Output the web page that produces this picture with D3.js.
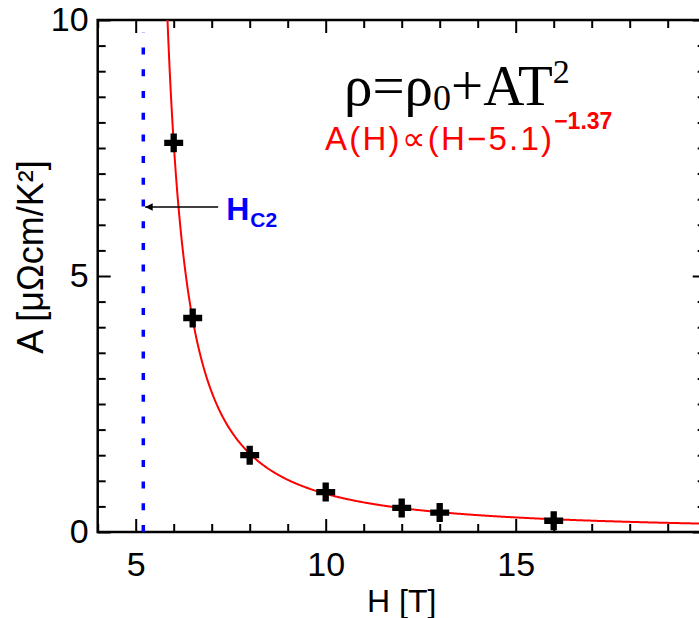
<!DOCTYPE html>
<html>
<head>
<meta charset="utf-8">
<script src="https://cdn.jsdelivr.net/npm/d3@7"></script>
<style>
  html, body { margin: 0; padding: 0; background: #fff; }
  svg { display: block; }
  .tick text { font-family: "Liberation Sans", Arial, sans-serif; font-size: 34px; fill: #000; }
</style>
</head>
<body>
<div id="chart"></div>
<script>
// measured points: field H [T] and T^2 coefficient A [µΩcm/K^2]
const fieldH = [6, 6.5, 8, 10, 12, 13, 16];
const coefA = [7.6, 4.18, 1.5, 0.78, 0.47, 0.38, 0.22];

// fit A(H) = amp * (H - hOffset)^power
const fitAmp = 6.58;
const fitOffset = 5.1;
const fitPower = -1.37;

// upper critical field marker
const hc2 = 5.2;

const xMajor = [5, 10, 15, 20];
const xLabels = { 5: '5', 10: '10', 15: '15', 20: '' };
const xMinor = [4, 6, 7, 8, 9, 11, 12, 13, 14, 16, 17, 18, 19];
const yMajor = [0, 5, 10];
const yMinor = [0.5, 1, 1.5, 2, 2.5, 3, 3.5, 4, 4.5, 5.5, 6, 6.5, 7, 7.5, 8, 8.5, 9, 9.5];

const width = 699, height = 618;
const plot = { left: 97.7, right: 705.7, top: 20, bottom: 532 };

const svg = d3.select('#chart').append('svg')
    .attr('width', width)
    .attr('height', height);

const x = d3.scaleLinear().domain([4, 20]).range([plot.left, plot.right]);
const y = d3.scaleLinear().domain([0, 10]).range([plot.bottom, plot.top]);

const defs = svg.append('defs');
defs.append('clipPath').attr('id', 'plot-clip')
  .append('rect')
    .attr('x', plot.left).attr('y', plot.top)
    .attr('width', plot.right - plot.left).attr('height', plot.bottom - plot.top);

defs.append('marker')
    .attr('id', 'arrow')
    .attr('viewBox', '0 0 10 10')
    .attr('refX', 10).attr('refY', 5)
    .attr('markerWidth', 5).attr('markerHeight', 5)
    .attr('markerUnits', 'strokeWidth')
    .attr('orient', 'auto')
  .append('path')
    .attr('d', 'M0,0 L10,5 L0,10 z')
    .attr('fill', '#000');

// axes (ticks point inward on all four sides)
function styleAxis(g) {
    g.select('.domain').remove();
    g.selectAll('.tick line').attr('stroke', '#000').attr('stroke-width', 2);
}

svg.append('g').attr('transform', `translate(0,${plot.bottom})`)
    .call(d3.axisBottom(x).tickValues(xMajor).tickSize(-13).tickPadding(20).tickFormat(d => xLabels[d]))
    .call(styleAxis);
svg.append('g').attr('transform', `translate(0,${plot.bottom})`)
    .call(d3.axisBottom(x).tickValues(xMinor).tickSize(-8).tickFormat(''))
    .call(styleAxis);
svg.append('g').attr('transform', `translate(0,${plot.top})`)
    .call(d3.axisTop(x).tickValues(xMajor).tickSize(-13).tickFormat(''))
    .call(styleAxis);
svg.append('g').attr('transform', `translate(0,${plot.top})`)
    .call(d3.axisTop(x).tickValues(xMinor).tickSize(-8).tickFormat(''))
    .call(styleAxis);

svg.append('g').attr('transform', `translate(${plot.left},0)`)
    .call(d3.axisLeft(y).tickValues(yMajor).tickSize(-13).tickPadding(9).tickFormat(d3.format('d')))
    .call(styleAxis);
svg.append('g').attr('transform', `translate(${plot.left},0)`)
    .call(d3.axisLeft(y).tickValues(yMinor).tickSize(-8).tickFormat(''))
    .call(styleAxis);
svg.append('g').attr('transform', `translate(${plot.right},0)`)
    .call(d3.axisRight(y).tickValues(yMajor).tickSize(-13).tickFormat(''))
    .call(styleAxis);
svg.append('g').attr('transform', `translate(${plot.right},0)`)
    .call(d3.axisRight(y).tickValues(yMinor).tickSize(-8).tickFormat(''))
    .call(styleAxis);

// frame
svg.append('rect')
    .attr('x', plot.left).attr('y', plot.top)
    .attr('width', plot.right - plot.left).attr('height', plot.bottom - plot.top)
    .attr('fill', 'none')
    .attr('stroke', '#000')
    .attr('stroke-width', 2.5);

// axis titles
svg.append('text')
    .attr('x', (plot.left + plot.right) / 2)
    .attr('y', 612)
    .attr('text-anchor', 'middle')
    .attr('font-family', '"Liberation Sans", Arial, sans-serif')
    .attr('font-size', 32)
    .text('H [T]');

svg.append('text')
    .attr('transform', 'translate(43,257) rotate(-90)')
    .attr('text-anchor', 'middle')
    .attr('font-family', '"Liberation Sans", Arial, sans-serif')
    .attr('font-size', 36)
    .text('A [μΩcm/K²]');

// Hc2 dotted line (drawn bottom-up so the dash pattern starts at the axis)
svg.append('line')
    .attr('x1', x(hc2)).attr('x2', x(hc2))
    .attr('y1', y(0)).attr('y2', y(9.75))
    .attr('stroke', '#0000ff')
    .attr('stroke-width', 3.5)
    .attr('stroke-dasharray', '7,14.7');

// fit curve
const fitPts = d3.range(5.7, 20.01, 0.02).map(h => [h, fitAmp * Math.pow(h - fitOffset, fitPower)]);
svg.append('path')
    .datum(fitPts)
    .attr('clip-path', 'url(#plot-clip)')
    .attr('fill', 'none')
    .attr('stroke', '#ff0000')
    .attr('stroke-width', 2)
    .attr('d', d3.line().x(d => x(d[0])).y(d => y(d[1])));

// data crosses
svg.selectAll('.pt')
    .data(fieldH.map((h, i) => [h, coefA[i]]))
    .enter().append('path')
    .attr('class', 'pt')
    .attr('transform', d => `translate(${x(d[0])},${y(d[1])})`)
    .attr('d', d3.symbol().type(d3.symbolCross).size(200))
    .attr('fill', '#000');

// arrow pointing at Hc2
svg.append('line')
    .attr('x1', x(7.17)).attr('y1', y(6.35))
    .attr('x2', x(5.25)).attr('y2', y(6.35))
    .attr('stroke', '#000')
    .attr('stroke-width', 1.5)
    .attr('marker-end', 'url(#arrow)');

const hcLabel = svg.append('text')
    .attr('x', x(7.38)).attr('y', y(6.09))
    .attr('font-family', '"Liberation Sans", Arial, sans-serif')
    .attr('font-weight', 'bold')
    .attr('fill', '#0000ff')
    .attr('font-size', 32);
hcLabel.append('tspan').text('H');
hcLabel.append('tspan').attr('font-size', 21).attr('dy', 7).attr('dx', 1).text('C2');

// formulas
const rho = svg.append('text')
    .attr('x', 344).attr('y', 105)
    .attr('font-family', '"Liberation Serif", "Times New Roman", serif')
    .attr('font-size', 57)
    .attr('fill', '#000');
rho.append('tspan').text('ρ=ρ');
rho.append('tspan').attr('font-size', 36).attr('dy', 5).text('0');
rho.append('tspan').attr('dy', -5).text('+AT');
rho.append('tspan').attr('font-size', 34).attr('dy', -22).text('2');

const fit = svg.append('text')
    .attr('x', 325).attr('y', 150)
    .attr('font-family', '"Liberation Sans", Arial, sans-serif')
    .attr('font-size', 33)
    .attr('fill', '#ff0000');
fit.append('tspan').attr('letter-spacing', 2.2).text('A(H)∝(H−5.1)');
fit.append('tspan').attr('font-size', 23).attr('font-weight', 'bold').attr('dy', -21).text('−1.37');
</script>
</body>
</html>
